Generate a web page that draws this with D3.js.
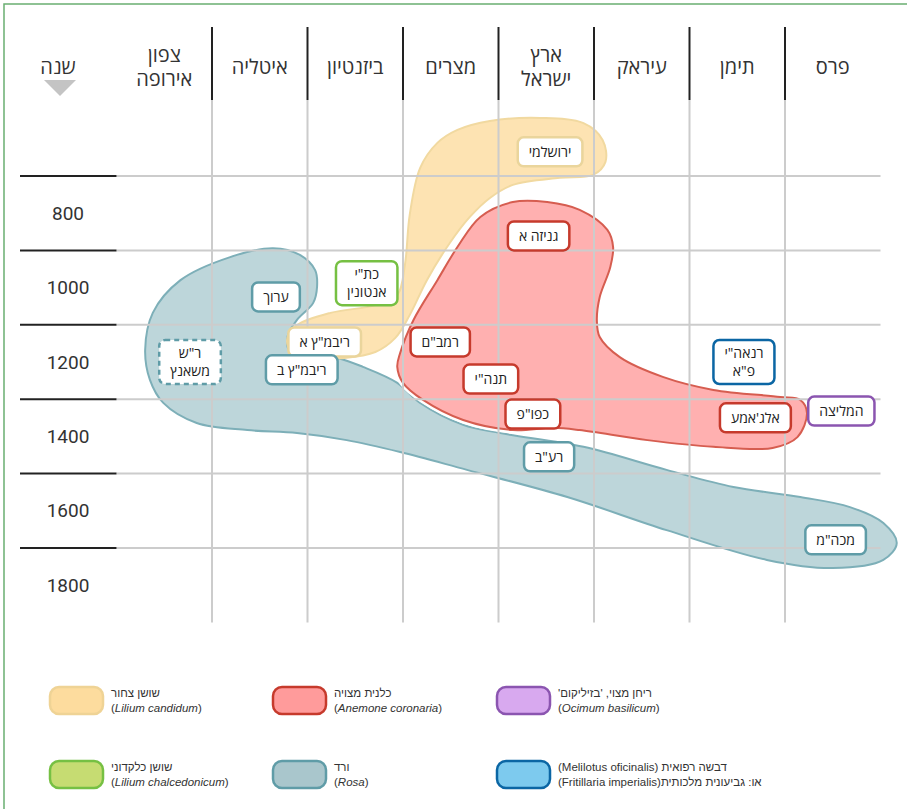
<!DOCTYPE html>
<html lang="he">
<head>
<meta charset="utf-8">
<script src="https://cdn.jsdelivr.net/npm/d3@7/dist/d3.min.js"></script>
<style>
  html, body { margin: 0; padding: 0; background: #fff; }
  svg { display: block; }
  .hdr { font-family: "Open Sans", "DejaVu Sans", sans-serif; font-size: 20px; fill: #333; }
  .year { font-family: Roboto, "DejaVu Sans", sans-serif; font-size: 19px; fill: #333; }
  .tag { font-family: "Open Sans", "DejaVu Sans", sans-serif; font-size: 14px; fill: #222; }
  .leg { font-family: "Liberation Sans Narrow", "Liberation Sans", sans-serif; font-size: 11.5px; fill: #333; }
</style>
</head>
<body>
<svg id="chart" width="907" height="809"></svg>
<script>
// columns, left to right
const regions = ['צפון\nאירופה', 'איטליה', 'ביזנטיון', 'מצרים', 'ארץ\nישראל', 'עיראק', 'תימן', 'פרס'];
const yearLabels = [800, 1000, 1200, 1400, 1600, 1800];
const rowLines = [700, 900, 1100, 1300, 1500, 1700];

// blob outlines as [column position, year]
const lilyCandidum = [
  [3.57, 576], [3.91, 552], [4.44, 544], [4.89, 558], [5.09, 603], [5.12, 662], [4.99, 697],
  [4.64, 705], [4.15, 724], [3.91, 759], [3.70, 810], [3.49, 880], [3.25, 980], [3.07, 1074],
  [2.92, 1135], [2.71, 1173], [2.39, 1189], [2.03, 1189], [1.82, 1168], [1.79, 1135],
  [1.89, 1101], [2.24, 1068], [2.71, 1047], [2.94, 1020], [3.02, 939], [3.07, 805],
  [3.18, 678], [3.36, 611]
];
const anemone = [
  [4.15, 770], [3.81, 810], [3.57, 891], [3.36, 980], [3.11, 1087], [2.97, 1176], [2.94, 1213],
  [3.00, 1256], [3.21, 1302], [3.63, 1356], [4.15, 1383], [4.57, 1377], [4.85, 1383],
  [5.56, 1410], [6.25, 1428], [6.87, 1431], [7.13, 1402], [7.23, 1337], [7.16, 1302],
  [6.95, 1294], [6.25, 1275], [5.72, 1240], [5.27, 1187], [5.06, 1133], [5.03, 1087],
  [5.06, 1025], [5.17, 945], [5.20, 891], [5.14, 845], [4.85, 791], [4.51, 770]
];
const rosa = [
  [1.64, 894], [1.92, 912], [2.08, 953], [2.10, 998], [2.06, 1041], [1.89, 1087], [1.79, 1133],
  [1.82, 1173], [2.31, 1189], [2.58, 1213], [2.94, 1256], [3.18, 1310], [3.63, 1369],
  [4.02, 1391], [4.89, 1428], [5.76, 1490], [6.46, 1536], [7.16, 1563], [7.68, 1590],
  [8.03, 1633], [8.17, 1687], [8.03, 1732], [7.50, 1754], [6.81, 1732], [5.76, 1652],
  [4.72, 1563], [3.67, 1490], [2.97, 1442], [2.41, 1410], [1.89, 1391], [1.37, 1383],
  [0.84, 1364], [0.49, 1310], [0.35, 1248], [0.30, 1168], [0.38, 1068], [0.67, 980], [1.19, 918]
];

// manuscript tags: text, column position, year, kind
const tagText = ['ירושלמי', 'גניזה א', 'כת"י\nאנטונין', 'ערוך', 'ריבמ"ץ א', 'ריבמ"ץ ב', 'ר"ש\nמשאנץ',
  'רמב"ם', 'תנה"י', 'כפו"פ', 'רע"ב', 'רנאה"י\nפ"א', 'אלג\'אמע', 'המליצה', 'מכה"מ'];
const tagCol = [4.54, 4.42, 2.62, 1.67, 2.18, 1.94, 0.77, 3.39, 3.92, 4.36, 4.53, 6.57, 6.69, 7.59, 7.53];
const tagYear = [635, 861, 988, 1025, 1146, 1221, 1200, 1146, 1246, 1340, 1455, 1200, 1350, 1332, 1678];
const tagKind = ['lily', 'anemone', 'chalced', 'rosa', 'lily', 'rosa', 'rosaDash', 'anemone', 'anemone',
  'anemone', 'rosa', 'melilot', 'anemone', 'basil', 'rosa'];

// legend
const legendHe = ['שושן צחור', 'כלנית מצויה', 'ריחן מצוי, \'בזיליקום\'', 'שושן כלקדוני', 'ורד', 'דבשה רפואית (Melilotus oficinalis)'];
const legendLatin = ['Lilium candidum', 'Anemone coronaria', 'Ocimum basilicum', 'Lilium chalcedonicum', 'Rosa', 'Fritillaria imperialis'];
const legendKind = ['lily', 'anemone', 'basil', 'chalced', 'rosa', 'melilot'];

const STYLE = {
  lily:     { fill: '#fddc9e', stroke: '#efd395', tag: '#ead59c' },
  anemone:  { fill: '#ff9b9b', stroke: '#c63a2c', tag: '#c63a2c' },
  basil:    { fill: '#d8a9ef', stroke: '#8b55b0', tag: '#8b55b0' },
  chalced:  { fill: '#c6dc72', stroke: '#76c043', tag: '#76c043' },
  rosa:     { fill: '#a9c6cc', stroke: '#5f9ca7', tag: '#5f9ca7' },
  rosaDash: { fill: '#a9c6cc', stroke: '#5f9ca7', tag: '#5f9ca7' },
  melilot:  { fill: '#7dcaee', stroke: '#0b66a4', tag: '#0b66a4' }
};

const svg = d3.select('#chart');

const x = d3.scaleLinear().domain([0, 8]).range([116.5, 880.5]);
const y = d3.scaleLinear().domain([700, 1700]).range([176, 548]);

// frame
svg.append('rect')
  .attr('x', 4).attr('y', 4).attr('width', 920).attr('height', 820)
  .attr('fill', 'none').attr('stroke', '#6aaf72').attr('stroke-width', 1.5);

// blobs
const blobLine = d3.line()
  .x(d => x(d[0]))
  .y(d => y(d[1]))
  .curve(d3.curveCatmullRomClosed.alpha(0.5));

const blobs = svg.append('g');
blobs.append('path').attr('d', blobLine(rosa))
  .attr('fill', '#bdd6da').attr('stroke', '#7dafb8').attr('stroke-width', 2);
blobs.append('path').attr('d', blobLine(lilyCandidum))
  .attr('fill', '#fde3b2').attr('stroke', '#f1d9a0').attr('stroke-width', 2);
blobs.append('path').attr('d', blobLine(anemone))
  .attr('fill', 'none').attr('stroke', '#fff').attr('stroke-width', 7);
blobs.append('path').attr('d', blobLine(anemone))
  .attr('fill', '#ffb0b0').attr('stroke', '#d65d50').attr('stroke-width', 2);

// grid
const grid = svg.append('g');
const colEdges = d3.range(1, 8);
grid.selectAll('line.vg')
  .data(colEdges)
  .enter().append('line')
  .attr('x1', d => x(d)).attr('x2', d => x(d))
  .attr('y1', 100).attr('y2', y(1900))
  .attr('stroke', '#cccccc').attr('stroke-width', 2);
grid.selectAll('line.vh')
  .data(colEdges)
  .enter().append('line')
  .attr('x1', d => x(d)).attr('x2', d => x(d))
  .attr('y1', 27).attr('y2', 100)
  .attr('stroke', '#222').attr('stroke-width', 2);
grid.selectAll('line.hg')
  .data(rowLines)
  .enter().append('line')
  .attr('x1', x(0)).attr('x2', x(8))
  .attr('y1', d => y(d)).attr('y2', d => y(d))
  .attr('stroke', '#cccccc').attr('stroke-width', 2);
grid.selectAll('line.hb')
  .data(rowLines)
  .enter().append('line')
  .attr('x1', 20).attr('x2', x(0))
  .attr('y1', d => y(d)).attr('y2', d => y(d))
  .attr('stroke', '#222').attr('stroke-width', 2);

// year labels
svg.append('g').selectAll('text')
  .data(yearLabels)
  .enter().append('text')
  .attr('class', 'year')
  .attr('x', 68).attr('y', d => y(d))
  .attr('dy', '0.35em')
  .attr('text-anchor', 'middle')
  .text(d => d);

// header
const hdr = svg.append('g');
regions.forEach((name, i) => {
  const lines = name.split('\n');
  const t = hdr.append('text')
    .attr('class', 'hdr')
    .attr('x', x(i + 0.5))
    .attr('text-anchor', 'middle');
  lines.forEach((ln, j) => {
    t.append('tspan')
      .attr('x', x(i + 0.5))
      .attr('y', 73.5 + (j - (lines.length - 1) / 2) * 24)
      .text(ln);
  });
});
hdr.append('text').attr('class', 'hdr').attr('x', 58).attr('y', 74)
  .attr('text-anchor', 'middle').text('שנה');
hdr.append('path')
  .attr('d', d3.line()([[44, 80], [76, 80], [60, 96]]) + 'Z')
  .attr('fill', '#c4c4c4');

// tags
const tags = svg.append('g');
tagText.forEach((txt, i) => {
  const kind = tagKind[i];
  const cx = x(tagCol[i]);
  const cy = y(tagYear[i]);
  const lines = txt.split('\n');
  const g = tags.append('g');
  const rect = g.append('rect');
  const t = g.append('text').attr('class', 'tag').attr('text-anchor', 'middle');
  lines.forEach((ln, j) => {
    t.append('tspan')
      .attr('x', cx)
      .attr('y', cy + (j - (lines.length - 1) / 2) * 18)
      .attr('dy', '0.35em')
      .text(ln);
  });
  const w = t.node().getBBox().width + 22;
  const h = lines.length > 1 ? 44 : 29;
  rect.attr('x', cx - w / 2).attr('y', cy - h / 2)
    .attr('width', w).attr('height', h)
    .attr('rx', 6)
    .attr('fill', '#fff')
    .attr('stroke', STYLE[kind].tag)
    .attr('stroke-width', 2.5)
    .attr('stroke-dasharray', kind === 'rosaDash' ? '5,4' : null);
});

// legend
const legend = svg.append('g');
const legX = [50, 273, 497];
const legY = [687, 761];
legendKind.forEach((kind, i) => {
  const lx = legX[i % 3];
  const ly = legY[Math.floor(i / 3)];
  legend.append('rect')
    .attr('x', lx).attr('y', ly)
    .attr('width', 53).attr('height', 27).attr('rx', 9)
    .attr('fill', STYLE[kind].fill)
    .attr('stroke', STYLE[kind].stroke)
    .attr('stroke-width', 2.5);
  legend.append('text')
    .attr('class', 'leg')
    .attr('x', lx + 61).attr('y', ly + 10)
    .attr('direction', 'rtl')
    .attr('text-anchor', 'end')
    .text(legendHe[i]);
  if (kind === 'melilot') {
    legend.append('text')
      .attr('class', 'leg')
      .attr('x', lx + 61).attr('y', ly + 25)
      .attr('direction', 'rtl')
      .attr('text-anchor', 'end')
      .text('או: גביעונית מלכותית(' + legendLatin[i] + ')');
  } else {
    const t2 = legend.append('text')
      .attr('class', 'leg')
      .attr('x', lx + 61).attr('y', ly + 25);
    t2.append('tspan').text('(');
    t2.append('tspan').attr('font-style', 'italic').text(legendLatin[i]);
    t2.append('tspan').text(')');
  }
});
</script>
</body>
</html>
